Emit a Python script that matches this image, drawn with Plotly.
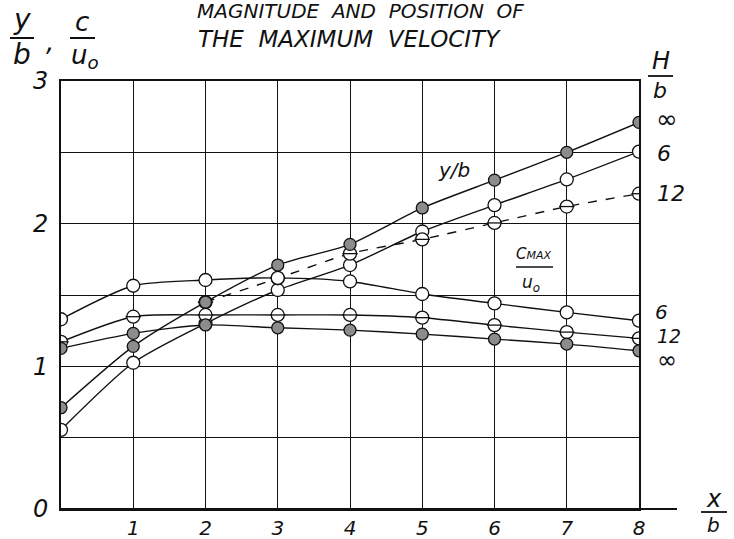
import plotly.graph_objects as go

# ---------------- data ----------------
x_vals = [0, 1, 2, 3, 4, 5, 6, 7, 8]

# position of maximum velocity  y/b
yb_inf = [0.71, 1.14, 1.45, 1.71, 1.855, 2.11, 2.305, 2.50, 2.71]
yb_6 = [0.555, 1.025, 1.30, 1.535, 1.71, 1.945, 2.13, 2.31, 2.505]
yb_12 = [None, None, 1.45, 1.617, 1.79, 1.89, 2.005, 2.12, 2.21]

# magnitude of maximum velocity  Cmax/u0
c_6 = [1.33, 1.565, 1.605, 1.62, 1.595, 1.507, 1.441, 1.378, 1.32]
c_12 = [1.172, 1.348, 1.36, 1.36, 1.36, 1.341, 1.289, 1.24, 1.196]
c_inf = [1.126, 1.231, 1.29, 1.27, 1.254, 1.226, 1.191, 1.156, 1.109]

x_ticks = [1, 2, 3, 4, 5, 6, 7, 8]
y_ticks = [0, 1, 2, 3]

# ---------------- styling ----------------
W, H = 734, 539
L, R, T, B = 61, 95, 81, 30
PW, PH = W - L - R, H - T - B
FONT = "DejaVu Sans"
INK = "#111111"
GRAY = "#8c8c8c"


def px(xp):
    return (xp - L) / PW


def py(yp):
    return (H - B - yp) / PH


fig = go.Figure()


def add_series(yv, dash="solid"):
    fig.add_trace(go.Scatter(
        x=x_vals, y=yv, mode="lines",
        line=dict(color=INK, width=1.4, dash=dash, shape="spline", smoothing=0.7),
        showlegend=False, hoverinfo="skip"))


def add_markers(yv, kind):
    if kind == "filled":
        fig.add_trace(go.Scatter(
            x=x_vals, y=yv, mode="markers",
            marker=dict(symbol="circle", size=12, color=GRAY,
                        line=dict(color=INK, width=1.3)),
            showlegend=False))
    else:
        fig.add_trace(go.Scatter(
            x=x_vals, y=yv, mode="markers",
            marker=dict(symbol="circle", size=13, color="white",
                        line=dict(color=INK, width=1.3)),
            showlegend=False))
        if kind == "half":
            fig.add_trace(go.Scatter(
                x=x_vals, y=yv, mode="markers",
                marker=dict(symbol="line-ew", size=11, color=INK,
                            line=dict(color=INK, width=1.3)),
                showlegend=False))


add_series(yb_inf)
add_series(yb_6)
add_series(yb_12, dash="dash")
add_series(c_6)
add_series(c_12)
add_series(c_inf)

add_markers(yb_6, "open")
add_markers(yb_12, "half")
add_markers(yb_inf, "filled")
add_markers(c_6, "open")
add_markers(c_12, "half")
add_markers(c_inf, "filled")

ann = []


def text(s, xp, yp, size, italic=True, xanchor="center"):
    ann.append(dict(text=s, x=px(xp), y=py(yp), xref="paper", yref="paper",
                    xanchor=xanchor, yanchor="middle", showarrow=False,
                    font=dict(family=FONT, size=size, color=INK,
                              style="italic" if italic else "normal")))


shapes = []


def bar(x0, x1, yp, w=1.6):
    shapes.append(dict(type="line", xref="paper", yref="paper",
                       x0=px(x0), x1=px(x1), y0=py(yp), y1=py(yp),
                       line=dict(color=INK, width=w)))


# title
text("MAGNITUDE  AND  POSITION  OF", 360, 11, 20)
text("THE  MAXIMUM  VELOCITY", 349, 39, 23)

# y-axis label
text("y", 22, 20, 28)
bar(10, 34, 38, 2)
text("b", 22, 55, 28)
text(",", 50, 42, 26)
text("c", 82, 22, 26)
bar(70, 95, 38, 2)
text("u<sub>o</sub>", 85, 56, 26)

# right-hand H/b label
text("H", 661, 61, 24)
bar(648, 673, 76, 1.8)
text("b", 660, 91, 22)
text("\u221e", 667, 119, 26, italic=False)
text("6", 664, 153, 22)
text("12", 671, 193, 22)
text("6", 661, 312, 20)
text("12", 669, 336, 19)
text("\u221e", 667, 360, 24, italic=False)

# x-axis label
text("x", 714, 499, 24)
bar(701, 727, 512, 1.8)
text("b", 713, 525, 20)

# curve labels
text("y/b", 454, 170, 20)
text("C<span style='font-size:11px'>MAX</span>", 534, 254, 15)
bar(516, 553, 267, 1.6)
text("u<sub>o</sub>", 531, 283, 17)

# extension of the x-axis beyond x = 8
shapes.append(dict(type="line", xref="paper", yref="paper",
                   x0=0, x1=px(677), y0=0, y1=0,
                   line=dict(color=INK, width=2)))

fig.update_layout(
    width=W, height=H,
    margin=dict(l=L, r=R, t=T, b=B, autoexpand=False),
    paper_bgcolor="white", plot_bgcolor="white",
    annotations=ann, shapes=shapes,
    showlegend=False,
)
fig.update_xaxes(
    range=[0, 8], tickvals=x_ticks, ticktext=[str(v) for v in x_ticks],
    automargin=False,
    showgrid=True, gridcolor=INK, gridwidth=1.1,
    showline=True, linecolor=INK, linewidth=2, mirror=True,
    zeroline=False, ticks="", ticklabelstandoff=0,
    tickfont=dict(family=FONT, size=20, color=INK, style="italic"),
)
fig.update_yaxes(
    range=[0, 3], tickvals=y_ticks, ticktext=[str(v) for v in y_ticks],
    automargin=False,
    showgrid=True, gridcolor=INK, gridwidth=1.1,
    minor=dict(dtick=0.5, showgrid=True, gridcolor=INK, gridwidth=1.1),
    showline=True, linecolor=INK, linewidth=2, mirror=True,
    zeroline=False, ticks="", ticklabelstandoff=6,
    tickfont=dict(family=FONT, size=24, color=INK, style="italic"),
)

fig.write_html("out.html")
